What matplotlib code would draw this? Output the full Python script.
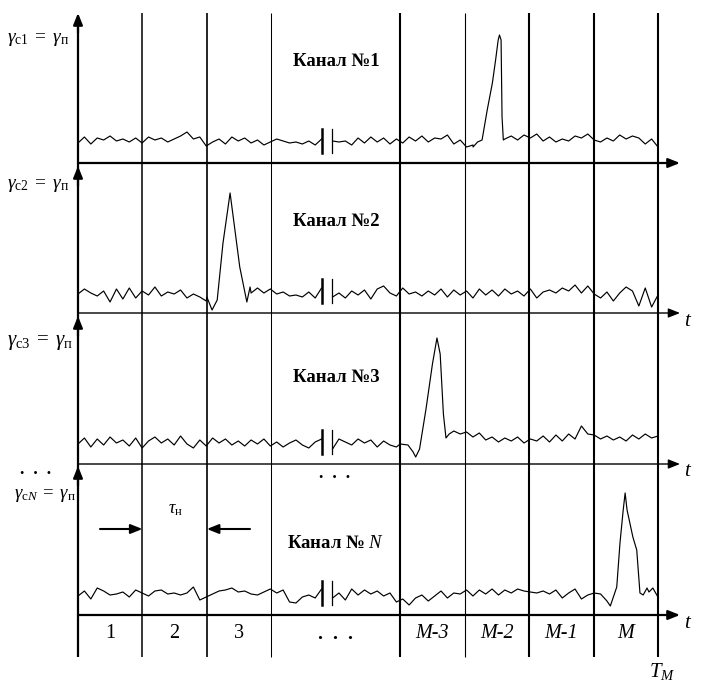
"""
Multichannel time-slot diagram: noise traces with a signal pulse per channel.
"""

import numpy as np
import matplotlib.pyplot as plt

plt.rcParams['font.family'] = ['Liberation Serif', 'DejaVu Serif']
plt.rcParams['mathtext.fontset'] = 'custom'
plt.rcParams['mathtext.rm'] = 'Liberation Serif'
plt.rcParams['mathtext.it'] = 'Liberation Serif:italic'
plt.rcParams['mathtext.bf'] = 'Liberation Serif:bold'

# slot boundaries in units of tau_n (the "..." slot spans two units)
slot_edges = [0, 1, 2, 3, 5, 6, 7, 8, 9]
slot_labels = ['1', '2', '3', '.  .  .', 'M-3', 'M-2', 'M-1', 'M']
slot_italic = [False, False, False, False, True, True, True, True]

channel_names = ['Канал №1', 'Канал №2', 'Канал №3', 'Канал № $N$']
gamma_labels = [r'$\gamma_{\mathrm{с1}}\;=\;\gamma_{\mathrm{п}}$',
                r'$\gamma_{\mathrm{с2}}\;=\;\gamma_{\mathrm{п}}$',
                r'$\gamma_{\mathrm{с3}}\;=\;\gamma_{\mathrm{п}}$',
                r'$\gamma_{\mathrm{с}N}\;=\;\gamma_{\mathrm{п}}$']

# noise sample times, left and right of the axis break
noise_left_t = np.linspace(0, 3.78, 39)
noise_right_t = np.linspace(3.95, 9.0, 52)

# channel 1
ch1_left = [20, 26, 19, 25, 23, 27, 22, 24, 21, 25, 20, 26, 23, 25, 21, 24, 27, 31, 24, 26,
            17, 21, 24, 19, 26, 22, 25, 20, 23, 18, 21, 24, 22, 20, 21, 19, 22, 18, 24]
ch1_right = [22, 21, 22, 18, 25, 20, 26, 21, 25, 19, 24, 20, 26, 22, 27, 21, 25, 24, 28, 19,
             23, 16, 18, 21, 22, 22, 22, 24, 27, 23, 28, 25, 29, 22, 26, 21, 24, 22, 27, 25,
             29, 23, 21, 25, 22, 28, 24, 27, 25, 19, 24, 16]
peak1_t = [6.13, 6.20, 6.27, 6.35, 6.43, 6.48, 6.52, 6.54, 6.565, 6.58, 6.60]
peak1_amp = [16, 21, 23, 53, 80, 103, 123, 128, 123, 46, 23]

# channel 2
ch2_left = [19, 24, 20, 17, 22, 11, 24, 14, 25, 15, 22, 18, 26, 17, 21, 19, 23, 15, 19, 16,
            12, 5, 10, 15, 20, 15, 12, 20, 25, 20, 24, 19, 21, 17, 18, 16, 21, 15, 25]
ch2_right = [16, 20, 15, 22, 18, 23, 14, 24, 27, 20, 17, 25, 19, 21, 17, 22, 18, 24, 16, 23,
             18, 22, 15, 24, 18, 23, 17, 24, 19, 22, 17, 24, 15, 21, 23, 20, 25, 22, 28, 20,
             27, 19, 15, 21, 12, 20, 26, 22, 7, 25, 6, 18]
peak2_t = [2.0, 2.08, 2.16, 2.25, 2.36, 2.51, 2.62, 2.67]
peak2_amp = [16, 3, 13, 70, 120, 46, 11, 26]

# channel 3
ch3_left = [20, 26, 17, 25, 19, 27, 21, 24, 18, 26, 16, 23, 27, 21, 25, 19, 28, 20, 16, 24,
            18, 26, 21, 25, 19, 23, 18, 24, 20, 25, 18, 22, 17, 21, 24, 19, 16, 22, 25]
ch3_right = [15, 25, 22, 19, 25, 21, 24, 17, 23, 19, 17, 20, 19, 12, 40, 100, 110, 30, 28, 33,
             30, 32, 27, 31, 24, 27, 22, 26, 23, 27, 21, 25, 23, 28, 22, 29, 23, 30, 25, 38,
             30, 29, 25, 28, 24, 27, 23, 29, 25, 30, 26, 28]
peak3_t = [5.0, 5.12, 5.2, 5.24, 5.3, 5.4, 5.5, 5.57, 5.62, 5.67, 5.71, 5.76]
peak3_amp = [20, 19, 12, 7, 15, 55, 100, 126, 110, 50, 26, 30]

# channel N
chN_left = [19, 24, 16, 27, 24, 20, 21, 23, 18, 25, 22, 19, 24, 25, 21, 22, 20, 22, 28, 15,
            18, 21, 24, 25, 27, 23, 24, 21, 20, 23, 26, 22, 25, 13, 12, 18, 20, 17, 26]
chN_right = [17, 22, 15, 26, 20, 25, 21, 24, 19, 22, 13, 16, 10, 17, 20, 14, 19, 24, 17, 22,
             21, 25, 19, 25, 21, 26, 20, 25, 22, 26, 24, 23, 22, 24, 21, 25, 17, 22, 26, 16,
             20, 22, 21, 14, 9, 40, 120, 90, 70, 22, 27, 19]
peakN_t = [8.26, 8.36, 8.41, 8.46, 8.49, 8.52, 8.61, 8.67, 8.72, 8.77, 8.83, 8.86, 8.92, 8.99]
peakN_amp = [9, 28, 72, 105, 122, 105, 78, 65, 22, 20, 27, 23, 27, 19]

channels = [
    (ch1_left, ch1_right, peak1_t, peak1_amp),
    (ch2_left, ch2_right, peak2_t, peak2_amp),
    (ch3_left, ch3_right, peak3_t, peak3_amp),
    (chN_left, chN_right, peakN_t, peakN_amp),
]

# layout (pixels of the 705x688 canvas)
W, H = 705, 688
X0 = 78                     # pixel of t = 0
PX = 580 / 9                # pixels per tau_n
base_px = [163, 313, 464, 615]
base_lw = [1.6, 1.0, 1.0, 1.6]
edge_lw = [1.6, 1.1, 1.2, 0.75, 1.5, 0.8, 1.5, 1.5, 1.5]
GAP = 3.85                  # axis break position
ARROW = '-|>,head_length=0.7,head_width=0.28'


def px(x, y):
    return (x - X0) / PX, H - y


def build_trace(left, right, pk_t, pk_a):
    t = np.concatenate([noise_left_t, noise_right_t])
    a = np.concatenate([left, right]).astype(float)
    keep = (t < pk_t[0]) | (t > pk_t[-1])
    t = np.concatenate([t[keep], pk_t])
    a = np.concatenate([a[keep], pk_a])
    order = np.argsort(t)
    return t[order], a[order]


def main():
    fig = plt.figure(figsize=(W / 100, H / 100), dpi=100)
    ax = fig.add_axes([0, 0, 1, 1])
    ax.set_xlim(-X0 / PX, (W - X0) / PX)
    ax.set_ylim(0, H)
    ax.axis('off')

    top = H - 13
    bottom = H - 657

    # slot boundaries
    for e, lw in zip(slot_edges, edge_lw):
        ax.plot([e, e], [bottom, top - (8 if e == 0 else 0)], color='black', lw=lw,
                solid_capstyle='butt')

    # vertical axis arrowheads, one per channel
    for tip in [13, 166, 316, 466]:
        ax.annotate('', xy=px(X0, tip), xytext=px(X0, tip + 20),
                    arrowprops=dict(arrowstyle=ARROW, lw=1.6, color='black',
                                    shrinkA=0, shrinkB=0))

    # time axes
    t_tip = (680 - X0) / PX
    for i, (b, lw) in enumerate(zip(base_px, base_lw)):
        yb = H - b
        ax.annotate('', xy=(t_tip, yb), xytext=(0, yb),
                    arrowprops=dict(arrowstyle=ARROW, lw=lw, color='black',
                                    shrinkA=0, shrinkB=0))
        if i > 0:
            ax.text(*px(688, b + 8), '$t$', fontsize=15, ha='center', va='center')

    # traces
    for (left, right, pk_t, pk_a), b in zip(channels, base_px):
        yb = H - b
        t, a = build_trace(left, right, pk_t, pk_a)
        m = t < GAP
        ax.plot(t[m], yb + a[m], color='black', lw=0.85)
        ax.plot(t[~m], yb + a[~m], color='black', lw=0.85)
        ax.plot([3.787, 3.787], [yb + 10, yb + 34], color='black', lw=1.8)
        ax.plot([3.94, 3.94], [yb + 10, yb + 34], color='black', lw=0.9)

    # channel titles and gamma labels
    name_y = [62, 221, 378, 543]
    gamma_pos = [(7, 40, 14), (7, 185, 14), (7, 342, 15), (14, 495, 13.5)]
    for name, ny, g, (gx, gy, gs) in zip(channel_names, name_y, gamma_labels, gamma_pos):
        ax.text(*px(336, ny), name, fontsize=13.5, fontweight='bold',
                ha='center', va='center')
        ax.text(*px(gx, gy), g, fontsize=gs, ha='left', va='center')

    # "..." markers for omitted channels
    for x, y in [(36, 470), (335, 473)]:
        ax.text(*px(x, y), '.  .  .', fontsize=13, fontweight='bold',
                ha='center', va='center')

    # tau_n interval
    ax.text(*px(175, 510), r'$\tau_{\mathrm{н}}$', fontsize=13, ha='center', va='center')
    ax.annotate('', xy=(1, H - 529), xytext=px(100, 529),
                arrowprops=dict(arrowstyle=ARROW, lw=1.5, color='black',
                                shrinkA=0, shrinkB=0))
    ax.annotate('', xy=(2, H - 529), xytext=px(250, 529),
                arrowprops=dict(arrowstyle=ARROW, lw=1.5, color='black',
                                shrinkA=0, shrinkB=0))

    # slot numbers
    for k, lab in enumerate(slot_labels):
        c = (slot_edges[k] + slot_edges[k + 1]) / 2
        ax.text(c, H - 634, lab, fontsize=14.5, ha='center', va='center',
                fontstyle='italic' if slot_italic[k] else 'normal',
                fontweight='bold' if k == 3 else 'normal')

    ax.text(*px(662, 672), '$T_M$', fontsize=15, ha='center', va='center')

    fig.savefig('out.png', dpi=100)
    plt.close(fig)


if __name__ == '__main__':
    main()
